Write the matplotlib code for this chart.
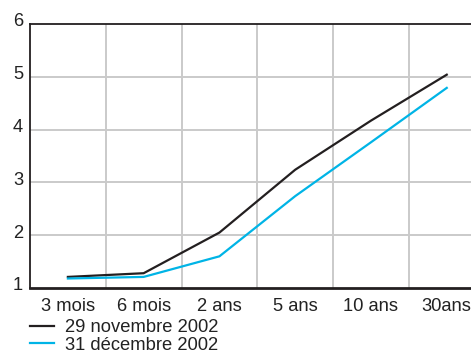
import matplotlib
matplotlib.use("Agg")
import matplotlib.pyplot as plt
import matplotlib.transforms as mtransforms

plt.rcParams['font.family'] = ['Liberation Sans', 'DejaVu Sans']

maturities = ["3 mois", "6 mois", "2 ans", "5 ans", "10 ans", "30ans"]
nov_2002 = [1.21, 1.28, 2.05, 3.24, 4.17, 5.04]
dec_2002 = [1.18, 1.21, 1.60, 2.74, 3.76, 4.79]
series_labels = ["29 novembre 2002", "31 décembre 2002"]
y_ticks = [1, 2, 3, 4, 5, 6]

black = "#231f20"
cyan = "#00b4e6"
grid_col = "#cacaca"
text_col = "#222222"
fs = 13.2

fig = plt.figure(figsize=(4.71, 3.54), dpi=100)
ax = fig.add_axes([30/471, 1-288/354, 1-30/471, (288-24)/354])

x = list(range(len(maturities)))
ax.plot(x, nov_2002, color=black, lw=1.6, label=series_labels[0], solid_joinstyle='miter')
ax.plot(x, dec_2002, color=cyan, lw=1.6, label=series_labels[1], solid_joinstyle='miter')

ax.set_xlim(-0.5, 5.32)
ax.set_ylim(1, 6)

# grid: vertical lines between categories, horizontal at each integer
for gx in [0.5, 1.5, 2.5, 3.5, 4.5]:
    ax.axvline(gx, color=grid_col, lw=1.4, zorder=0)
for gy in y_ticks[1:-1]:
    ax.axhline(gy, color=grid_col, lw=1.4, zorder=0)

ax.set_xticks(x)
ax.set_xticklabels(maturities, fontsize=fs, color=text_col)
ax.set_yticks(y_ticks)
ax.set_yticklabels([str(v) for v in y_ticks], fontsize=fs, color=text_col)
ax.tick_params(axis='both', length=0)
ax.tick_params(axis='x', pad=7)
ax.tick_params(axis='y', pad=5)
offset = mtransforms.ScaledTranslation(0, 4/100, fig.dpi_scale_trans)
for lab in ax.get_yticklabels():
    lab.set_transform(lab.get_transform() + offset)

for side in ['top', 'left']:
    ax.spines[side].set_color(black)
    ax.spines[side].set_linewidth(1.3)
ax.spines['bottom'].set_color(black)
ax.spines['bottom'].set_linewidth(2.0)
ax.spines['right'].set_visible(False)

leg = ax.legend(loc='upper left', bbox_to_anchor=(30/471, 1-319.5/354),
                bbox_transform=fig.transFigure, frameon=False, fontsize=fs,
                handlelength=1.3, handletextpad=0.6, labelspacing=0.0,
                borderaxespad=0, borderpad=0)
for t in leg.get_texts():
    t.set_color(text_col)

fig.savefig("out.png", dpi=100)
